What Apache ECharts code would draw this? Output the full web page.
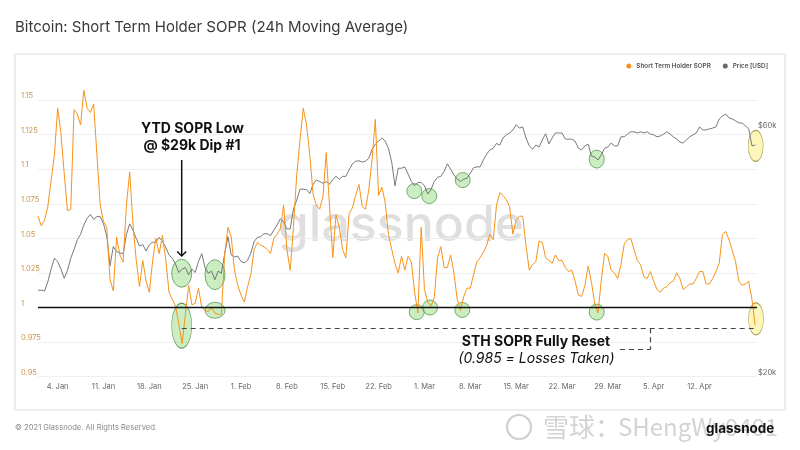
<!DOCTYPE html>
<html><head><meta charset="utf-8">
<script src="https://cdn.jsdelivr.net/npm/echarts@6/dist/echarts.min.js"></script>
<style>html,body{margin:0;padding:0;background:#fff}#c{width:800px;height:450px}</style>
</head><body><div id="c"></div>
<script>
// ---- data (12-hourly samples starting 2021-01-01 00:00 UTC) ----
const startDate = '2021-01-01T00:00:00Z';
const stepHours = 12;
const soprValues = [
1.066,1.059,1.063,1.073,1.092,1.110,1.144,1.126,1.097,1.070,
1.071,1.143,1.140,1.132,1.157,1.144,1.141,1.147,1.110,1.074,
1.062,1.058,1.020,1.012,1.051,1.038,1.033,1.074,1.098,1.060,
1.034,1.015,1.034,1.019,1.011,1.034,1.050,1.039,1.052,1.035,
1.011,1.006,1.001,0.988,0.974,0.995,1.016,1.002,1.003,1.014,
1.000,0.998,0.997,1.000,0.996,0.995,0.995,1.038,1.058,1.051,
1.027,1.016,1.009,1.004,1.015,1.024,1.042,1.047,1.045,1.044,
1.042,1.039,1.050,1.053,1.057,1.074,1.042,1.027,1.058,1.096,
1.121,1.144,1.132,1.110,1.082,1.074,1.071,1.080,1.112,1.074,
1.036,1.067,1.058,1.042,1.036,1.068,1.072,1.081,1.089,1.073,
1.071,1.085,1.107,1.136,1.081,1.087,1.076,1.053,1.042,1.032,
1.025,1.037,1.027,1.037,1.033,1.011,0.996,1.058,1.013,1.004,
1.001,1.007,1.036,1.044,1.029,1.029,1.038,1.025,1.006,0.998,
1.008,1.014,1.014,1.024,1.033,1.036,1.040,1.045,1.053,1.049,
1.074,1.083,1.081,1.078,1.073,1.053,1.063,1.066,1.066,1.045,
1.027,1.031,1.033,1.048,1.047,1.036,1.034,1.032,1.038,1.034,
1.034,1.029,1.026,1.027,1.019,1.009,1.008,1.016,1.030,1.018,
1.003,0.996,1.020,1.039,1.037,1.027,1.025,1.021,1.031,1.046,
1.049,1.050,1.042,1.034,1.031,1.022,1.021,1.026,1.019,1.013,
1.011,1.014,1.015,1.018,1.019,1.025,1.021,1.013,1.015,1.017,
1.017,1.021,1.026,1.026,1.017,1.017,1.021,1.026,1.032,1.053,
1.055,1.049,1.041,1.033,1.019,1.016,1.017,1.019,1.006,0.987
];
const priceValues = [
29400,29400,29300,30500,32300,33900,33400,32300,31000,32100,
33900,35200,36800,37700,39300,40500,41200,40300,40800,40800,
39500,37400,32800,35700,34900,34700,34600,37700,39500,38400,
37000,35800,36000,35000,36000,36400,36400,37200,36500,35600,
34400,33900,33000,31800,32300,32500,31500,32300,31800,33400,
34600,32500,31700,32000,30800,32000,31700,34600,37300,34400,
34100,34200,33400,33200,33600,34700,36500,37200,37300,37800,
37800,37500,38400,39300,40400,39900,38600,38600,42200,43900,
46100,46100,46000,45200,47100,48000,47700,47300,47700,47100,
48100,48800,48200,48800,48800,50200,51600,52200,52300,52000,
52200,52900,55000,56300,57100,57900,57100,55300,52000,46800,
50600,50600,50900,49300,47700,46800,47500,47500,46800,45100,
46000,47700,48600,48800,49900,51600,50400,49100,48200,47700,
48200,48400,49500,50700,50900,50900,52500,53900,54900,55300,
56500,56100,57900,58700,59200,60000,61400,60500,60800,57900,
55900,55100,56100,55600,57400,59000,56400,57900,59200,59200,
59200,57600,57600,57600,57100,55300,54900,55900,56300,53400,
53200,52500,53700,55300,55600,56600,55900,55900,58200,58200,
58900,59500,59500,59200,59500,59200,59500,58900,58700,58200,
58400,58900,59500,58900,58200,57600,56900,56600,57400,58200,
58700,59200,60800,60000,60000,60300,60500,60800,63000,63800,
64400,63300,63000,62500,61900,61900,61100,60300,55900,56100
];
const xTickDates = ['2021-01-04','2021-01-11','2021-01-18','2021-01-25','2021-02-01','2021-02-08','2021-02-15','2021-02-22','2021-03-01','2021-03-08','2021-03-15','2021-03-22','2021-03-29','2021-04-05','2021-04-12'];
const monthNames = ['Jan','Feb','Mar','Apr','May','Jun','Jul','Aug','Sep','Oct','Nov','Dec'];
const seriesNames = ['Short Term Holder SOPR', 'Price [USD]'];

// ---- build ----
const DAY = 86400000;
const t0 = Date.parse(startDate);
const stepMs = stepHours * 3600000;
const soprData = soprValues.map((v, i) => [t0 + i * stepMs, v]);
const priceData = priceValues.map((v, i) => [t0 + i * stepMs, v]);
const at = d => t0 + d * DAY;
const xMax = at(109.77);

const ellPath = 'path://M0,50 A50,50 0 1,1 100,50 A50,50 0 1,1 0,50 Z';
const green = {color:'rgba(140,215,120,0.45)', borderColor:'rgba(70,135,60,0.85)', borderWidth:0.8};
const yellow = {color:'rgba(250,240,140,0.6)', borderColor:'rgba(150,140,60,0.85)', borderWidth:0.8};
const mp = (d, v, w, h, st) => ({coord:[at(d), v], symbol:ellPath, symbolSize:[w,h], symbolKeepAspect:false, itemStyle:st});
const dashed = {color:'#444', width:1.2, type:[5,4]};

const chart = echarts.init(document.getElementById('c'), null, {renderer:'canvas'});
chart.setOption({
  animation:false,
  backgroundColor:'#fff',
  textStyle:{fontFamily:'Inter, Roboto, sans-serif'},
  title:{text:'Bitcoin: Short Term Holder SOPR (24h Moving Average)', left:10, top:15,
    textStyle:{fontSize:15, fontWeight:'normal', color:'#3a3a3a', fontFamily:'Inter'}},
  legend:{data:seriesNames, right:27, top:58, icon:'circle', itemWidth:5, itemHeight:5, itemGap:12,
    textStyle:{fontSize:6.3, color:'#555', fontWeight:600, fontFamily:'Inter'}},
  grid:{left:38, right:43, top:100, bottom:73.3},
  xAxis:{type:'value', min:t0, max:xMax, scale:true,
    axisLine:{show:false}, axisTick:{show:false}, splitLine:{show:false},
    axisLabel:{customValues:xTickDates.map(d => Date.parse(d)), hideOverlap:false,
      formatter:v => { const d = new Date(v); return d.getUTCDate() + '. ' + monthNames[d.getUTCMonth()]; },
      color:'#666', fontSize:7.5, margin:6}},
  yAxis:[
    {type:'value', min:0.95, max:1.15, interval:0.025, position:'left',
     axisLine:{show:false}, axisTick:{show:false},
     splitLine:{lineStyle:{color:'#efefef', width:1}},
     axisLabel:{color:'#c8964e', fontSize:7.5, align:'left', margin:17, verticalAlign:'bottom',
       formatter:v => String(+v.toFixed(3))}},
    {type:'log', logBase:Math.pow(60000, 0.1), min:20000, max:68560, position:'right',
     axisLine:{show:false}, axisTick:{show:false}, splitLine:{show:false}, minorSplitLine:{show:false},
     axisLabel:{color:'#666', fontSize:7.5, align:'left', margin:1, verticalAlign:'bottom',
       formatter:v => { const k = Math.round(v/1000); return (k===20||k===60) ? '$'+k+'k' : ''; }}}
  ],
  series:[
    {name:seriesNames[1], type:'line', yAxisIndex:1, data:priceData, showSymbol:false, symbol:'none',
     lineStyle:{color:'#6a6a6a', width:0.9}, itemStyle:{color:'#6a6a6a'}, z:2, clip:false,
     markPoint:{silent:true, z:1, label:{show:false}, data:[
       mp(21.94, 31700, 20, 28, green), mp(27.02, 31500, 20, 30, green),
       mp(57.45, 45700, 15, 15, green), mp(59.74, 44700, 15, 15, green), mp(64.84, 48000, 15, 15, green),
       mp(85.3, 52700, 15, 18, green), mp(109.57, 55900, 15, 31, yellow)
     ]}},
    {name:seriesNames[0], type:'line', yAxisIndex:0, data:soprData, showSymbol:false, symbol:'none',
     lineStyle:{color:'#f7931a', width:1}, itemStyle:{color:'#f7931a'}, z:3, clip:false,
     markLine:{silent:true, symbol:['none','none'], label:{show:false}, data:[
       {yAxis:1, lineStyle:{color:'#111', width:1.3, type:'solid'}},
       [{coord:[at(21.94), 0.985], lineStyle:dashed}, {coord:[xMax, 0.985]}],
       [{coord:[at(93.54), 0.985], lineStyle:dashed}, {coord:[at(93.54), 0.970]}],
       [{coord:[at(88.85), 0.970], lineStyle:dashed}, {coord:[at(93.54), 0.970]}]
     ]},
     markPoint:{silent:true, z:1, label:{show:false}, data:[
       mp(21.94, 0.9869, 20, 45, green), mp(27.02, 0.998, 20, 16, green),
       mp(57.82, 0.9967, 15, 15, green), mp(59.85, 1.000, 15, 15, green), mp(64.78, 0.9983, 15, 15, green),
       mp(85.3, 0.9967, 15, 16, green), mp(109.62, 0.9918, 15, 32, yellow)
     ]}}
  ],
  graphic:[
    {type:'rect', silent:true, z:-10, shape:{x:15, y:54, width:770, height:356}, style:{fill:'none', stroke:'#e8e8e8', lineWidth:1.5}},
    {type:'text', silent:true, z:-5, x:401, y:226, style:{text:'glassnode', font:'500 50px Inter', fill:'rgba(185,185,185,0.45)', align:'center', verticalAlign:'middle'}},
    {type:'text', silent:true, z:50, x:192.5, y:129, style:{text:'YTD SOPR Low', font:'bold 14px Inter', fill:'#111', align:'center', verticalAlign:'middle'}},
    {type:'text', silent:true, z:50, x:192, y:146, style:{text:'@ $29k Dip #1', font:'bold 14px Inter', fill:'#111', align:'center', verticalAlign:'middle'}},
    {type:'line', silent:true, z:50, shape:{x1:181.7, y1:160, x2:181.7, y2:256}, style:{stroke:'#111', lineWidth:1.5}},
    {type:'polyline', silent:true, z:50, shape:{points:[[177.2,251.5],[181.7,256],[186.2,251.5]]}, style:{stroke:'#111', lineWidth:1.5, fill:'none'}},
    {type:'text', silent:true, z:50, x:536, y:341.5, style:{text:'STH SOPR Fully Reset', font:'bold 14px Inter', fill:'#111', align:'center', verticalAlign:'middle'}},
    {type:'text', silent:true, z:50, x:536.5, y:358.5, style:{text:'(0.985 = Losses Taken)', font:'italic 14px Inter', fill:'#111', align:'center', verticalAlign:'middle'}},
    {type:'text', silent:true, x:15, y:428, style:{text:'\u00a9 2021 Glassnode. All Rights Reserved.', font:'7.6px Inter', fill:'#8a8a8a', align:'left', verticalAlign:'middle'}},
    {type:'circle', silent:true, shape:{cx:519, cy:427, r:12}, style:{fill:'none', stroke:'rgba(175,175,175,0.6)', lineWidth:2.2}},
    {type:'text', silent:true, x:543, y:427, style:{text:'\u96ea\u7403\uff1a', font:'26px "Noto Sans CJK SC"', fill:'rgba(175,175,175,0.55)', align:'left', verticalAlign:'middle'}},
    {type:'text', silent:true, x:618, y:427, style:{text:'SHengWy0401', font:'24px "Noto Sans CJK SC"', fill:'rgba(175,175,175,0.55)', align:'left', verticalAlign:'middle'}},
    {type:'text', silent:true, z:60, x:706, y:429, style:{text:'glassnode', font:'bold 13.5px Inter', fill:'#111', align:'left', verticalAlign:'middle'}}
  ]
});
</script></body></html>
